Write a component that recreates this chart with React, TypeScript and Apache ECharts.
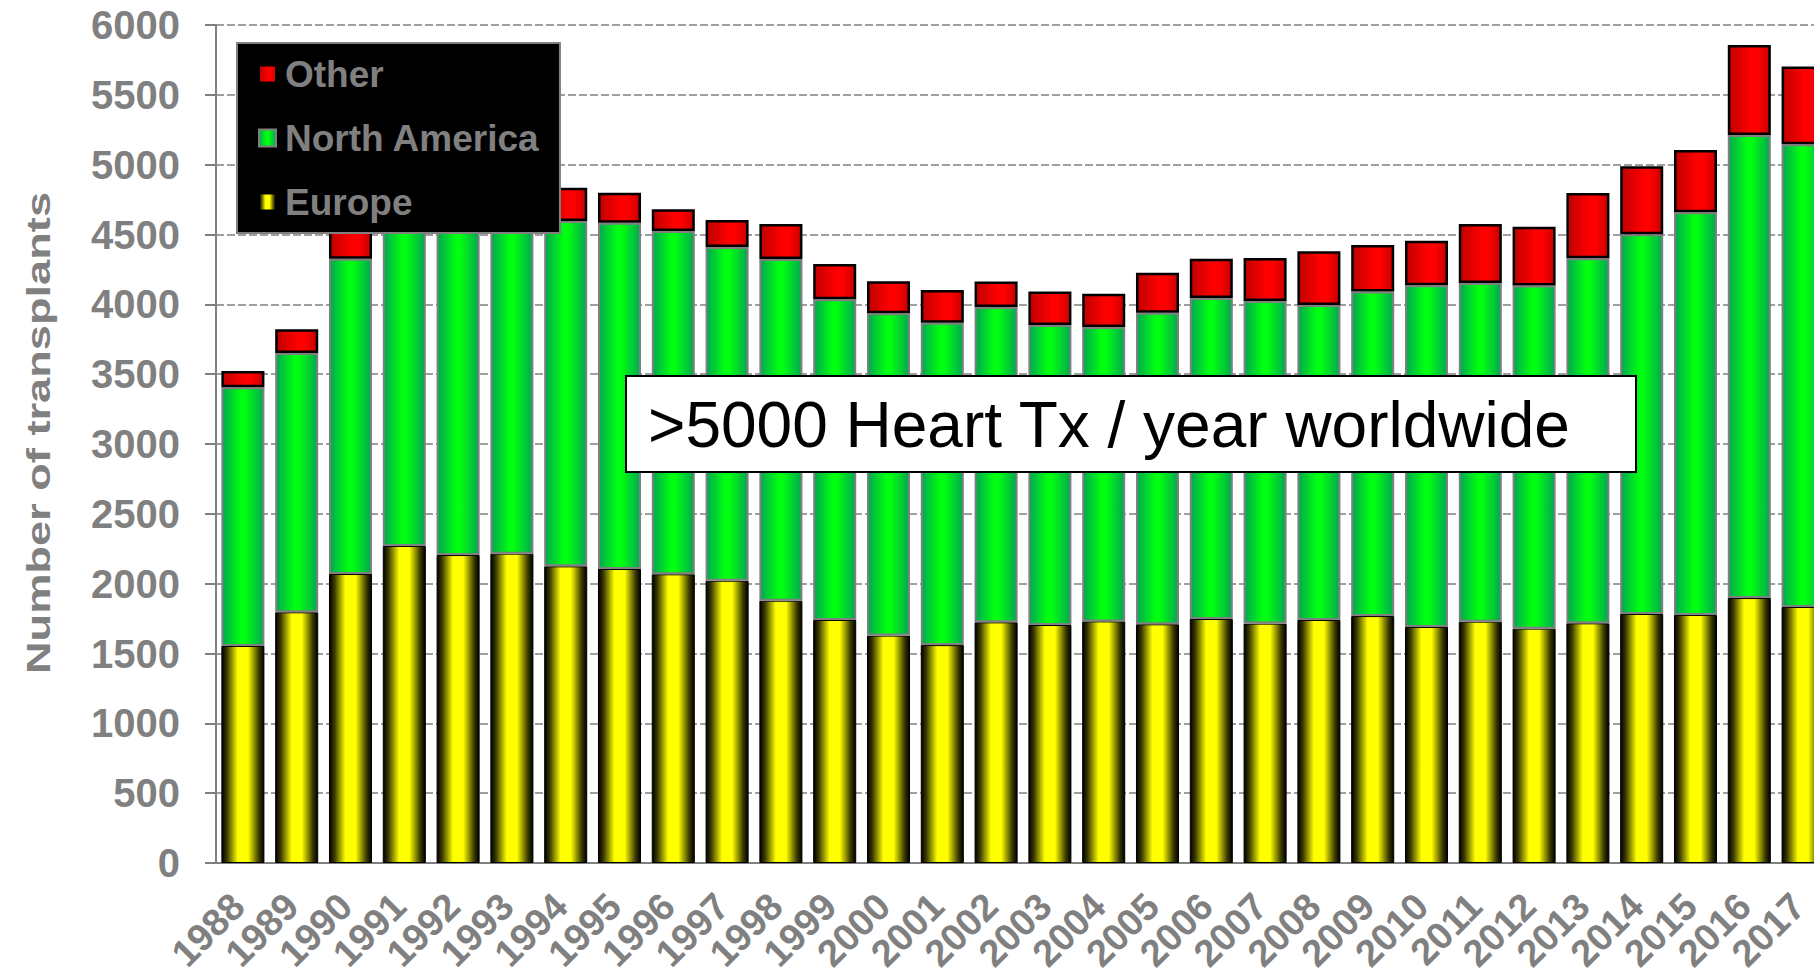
import React, { useEffect, useRef } from "react";
import * as echarts from "echarts";

const years = [
  "1988", "1989", "1990", "1991", "1992", "1993", "1994", "1995", "1996", "1997",
  "1998", "1999", "2000", "2001", "2002", "2003", "2004", "2005", "2006", "2007",
  "2008", "2009", "2010", "2011", "2012", "2013", "2014", "2015", "2016", "2017",
];

const europe = [
  1554, 1795, 2069, 2270, 2205, 2215, 2124, 2105, 2067, 2021,
  1878, 1740, 1628, 1560, 1723, 1704, 1730, 1709, 1747, 1714,
  1740, 1768, 1690, 1728, 1678, 1716, 1783, 1776, 1897, 1833,
];

const northAmerica = [
  1852, 1857, 2258, 2350, 2355, 2365, 2473, 2480, 2458, 2390,
  2447, 2296, 2309, 2309, 2258, 2148, 2108, 2231, 2298, 2310,
  2255, 2323, 2446, 2425, 2456, 2614, 2718, 2883, 3315, 3313,
];

const other = [
  117, 169, 233, 250, 220, 230, 238, 214, 155, 193,
  250, 253, 229, 234, 183, 239, 238, 287, 282, 308,
  385, 334, 320, 422, 421, 467, 487, 446, 645, 556,
];

const yTicks = { min: 0, max: 6000, interval: 500 };

const FONT = "'Liberation Sans', Arial, sans-serif";
const GRAY = "#808080";

export default function App() {
  const ref = useRef<HTMLDivElement>(null);

  useEffect(() => {
    if (!ref.current) return;
    const chart = echarts.init(ref.current, null, { renderer: "svg" });

    const yellow = new echarts.graphic.LinearGradient(0, 0, 1, 0, [
      { offset: 0, color: "#000000" },
      { offset: 0.12, color: "#3a3a00" },
      { offset: 0.38, color: "#ffff00" },
      { offset: 0.62, color: "#ffff00" },
      { offset: 0.88, color: "#3a3a00" },
      { offset: 1, color: "#000000" },
    ]);
    const green = new echarts.graphic.LinearGradient(0, 0, 1, 0, [
      { offset: 0, color: "#00a850" },
      { offset: 0.45, color: "#00ff10" },
      { offset: 0.55, color: "#00ff10" },
      { offset: 1, color: "#00a850" },
    ]);
    const red = new echarts.graphic.LinearGradient(0, 0, 1, 0, [
      { offset: 0, color: "#c00000" },
      { offset: 0.55, color: "#ff0000" },
      { offset: 0.7, color: "#ff0000" },
      { offset: 1, color: "#c80000" },
    ]);

    chart.setOption({
      animation: false,
      backgroundColor: "#ffffff",
      grid: {
        left: 216,
        right: -16,
        top: 25,
        bottom: 114,
        containLabel: false,
        outerBoundsMode: "none",
      },
      legend: {
        data: ["Other", "North America", "Europe"],
        orient: "vertical",
        left: 237,
        top: 43,
        backgroundColor: "#000000",
        borderColor: GRAY,
        borderWidth: 2,
        padding: [11, 20, 11, 21],
        itemGap: 24,
        itemWidth: 17,
        itemHeight: 17,
        icon: "rect",
        selectedMode: false,
        textStyle: {
          color: GRAY,
          fontFamily: FONT,
          fontWeight: "bold",
          fontSize: 37,
          lineHeight: 40,
          padding: [0, 0, 0, 4],
        },
      },
      xAxis: {
        type: "category",
        data: years,
        axisLine: { lineStyle: { color: GRAY, width: 2 } },
        axisTick: { length: 11, lineStyle: { color: GRAY, width: 2 } },
        axisLabel: {
          interval: 0,
          rotate: 45,
          margin: 32,
          padding: [0, 7, 0, 0],
          color: GRAY,
          fontFamily: FONT,
          fontWeight: "bold",
          fontSize: 38,
        },
      },
      yAxis: {
        type: "value",
        min: yTicks.min,
        max: yTicks.max,
        interval: yTicks.interval,
        axisLine: { show: true, lineStyle: { color: GRAY, width: 2 } },
        axisTick: { show: true, length: 11, lineStyle: { color: GRAY, width: 2 } },
        axisLabel: {
          margin: 36,
          color: GRAY,
          fontFamily: FONT,
          fontWeight: "bold",
          fontSize: 40,
          formatter: (v: number) => String(v),
        },
        splitLine: {
          show: true,
          lineStyle: { color: GRAY, width: 1.5, type: [8, 3] },
        },
      },
      series: [
        {
          name: "Europe",
          type: "bar",
          stack: "tx",
          data: europe,
          barCategoryGap: "20%",
          itemStyle: { color: yellow, borderColor: "#000000", borderWidth: 1 },
        },
        {
          name: "North America",
          type: "bar",
          stack: "tx",
          data: northAmerica,
          barCategoryGap: "20%",
          itemStyle: { color: green, borderColor: GRAY, borderWidth: 2 },
        },
        {
          name: "Other",
          type: "bar",
          stack: "tx",
          data: other,
          barCategoryGap: "20%",
          itemStyle: { color: red, borderColor: "#000000", borderWidth: 2.5 },
        },
      ],
      graphic: [
        {
          type: "text",
          x: 38,
          y: 433,
          rotation: Math.PI / 2,
          scaleX: 1.37,
          z: 100,
          style: {
            text: "Number of transplants",
            fill: GRAY,
            font: `bold 33px ${FONT}`,
            align: "center",
            verticalAlign: "middle",
          },
        },
        {
          type: "rect",
          z: 100,
          shape: { x: 626, y: 376, width: 1010, height: 96 },
          style: { fill: "#ffffff", stroke: "#000000", lineWidth: 2 },
        },
        {
          type: "text",
          z: 101,
          x: 648,
          y: 425,
          style: {
            text: ">5000 Heart Tx / year worldwide",
            fill: "#000000",
            font: `64px ${FONT}`,
            align: "left",
            verticalAlign: "middle",
          },
        },
      ],
    });

    return () => chart.dispose();
  }, []);

  return (
    <div
      ref={ref}
      style={{ position: "fixed", left: 0, top: 0, width: 1814, height: 977 }}
    />
  );
}
